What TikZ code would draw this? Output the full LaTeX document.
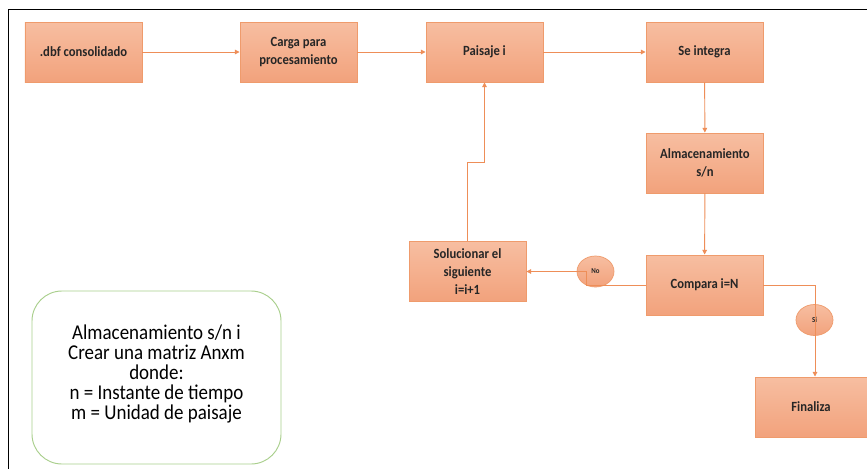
\documentclass[tikz,border=0pt]{standalone}
\usepackage{fontspec}
\setmainfont[FakeStretch=0.9]{Carlito}
\usetikzlibrary{arrows.meta,shapes.geometric}
\definecolor{boxtop}{HTML}{F7BEA1}
\definecolor{boxbot}{HTML}{F2A27C}
\definecolor{boxline}{HTML}{EF9B6C}
\definecolor{wire}{HTML}{EE8E58}
\definecolor{txt}{HTML}{262626}
\definecolor{notegreen}{HTML}{A9CF8C}
\tikzset{
  stepbox/.style={draw=boxline, line width=0.8pt, top color=boxtop, bottom color=boxbot,
    minimum width=117*0.3mm, minimum height=60*0.3mm, inner sep=1pt,
    align=center, text=txt, font=\fontsize{12}{15}\selectfont\bfseries},
  tag/.style={ellipse, draw=boxline, line width=0.6pt, top color=boxtop, bottom color=boxbot,
    minimum width=37*0.3mm, minimum height=31*0.3mm, inner sep=0pt,
    text=txt, font=\fontsize{6.5}{7}\selectfont\bfseries},
  wireline/.style={draw=wire, line width=0.8pt},
  flow/.style={wireline, -{Triangle[length=4pt,width=4pt]}},
}
\begin{document}
\begin{tikzpicture}[x=0.03cm, y=-0.03cm]
\useasboundingbox (0,0) rectangle (867,469);
\fill[white] (0,0) rectangle (867,469);
% outer frame (top and left edges)
\draw[line width=1.6pt] (867,9.5) -- (8.5,9.5) -- (8.5,469);

% process boxes
\node[stepbox] (dbf)   at (83.5,52)  {.dbf consolidado};
\node[stepbox] (carga) at (298.5,52) {Carga para\\procesamiento};
\node[stepbox] (pais)  at (484.5,52) {Paisaje i};
\node[stepbox] (integ) at (704.5,52) {Se integra};
\node[stepbox] (alm)   at (705,163)  {Almacenamiento\\s/n};
\node[stepbox] (comp)  at (704.5,285){Compara i=N};
\node[stepbox, font=\fontsize{12}{15.6}\selectfont\bfseries] (sol) at (467.5,271.5) {Solucionar el\\siguiente\\i=i+1};
\node[stepbox, minimum width=112*0.3mm] (fin) at (811,407) {Finaliza};

% decision labels
\node[tag] (no) at (595.5,271.5) {No};
\node[tag] (si) at (814.5,320) {Si};

% connectors
\draw[flow] (dbf) -- (carga);
\draw[flow] (carga) -- (pais);
\draw[flow] (pais) -- (integ);
\draw[flow] (integ) -- (alm);
\draw[flow] (alm) -- (comp);
\draw[flow] (comp.west) -- (586,285) -- (586,271.5) -- (sol.east);
\draw[flow] (comp.east) -- (815,285) -- (fin.north -| 815,0);
\draw[flow] (sol.north) -- (467.5,162) -- (484.5,162) -- (pais.south);

% note box and its text
\node[draw=notegreen, line width=0.8pt, rounded corners=9mm,
      minimum width=249*0.3mm, minimum height=173*0.3mm] (note) at (156.5,377.5) {};
\node[align=center, font=\fontsize{18}{16.9}\selectfont, text=black] (notetext) at (156.5,374)
  {Almacenamiento s/n i\\Crear una matriz Anxm\\donde:\\n = Instante de tiempo\\m = Unidad de paisaje};
\end{tikzpicture}
\end{document}
